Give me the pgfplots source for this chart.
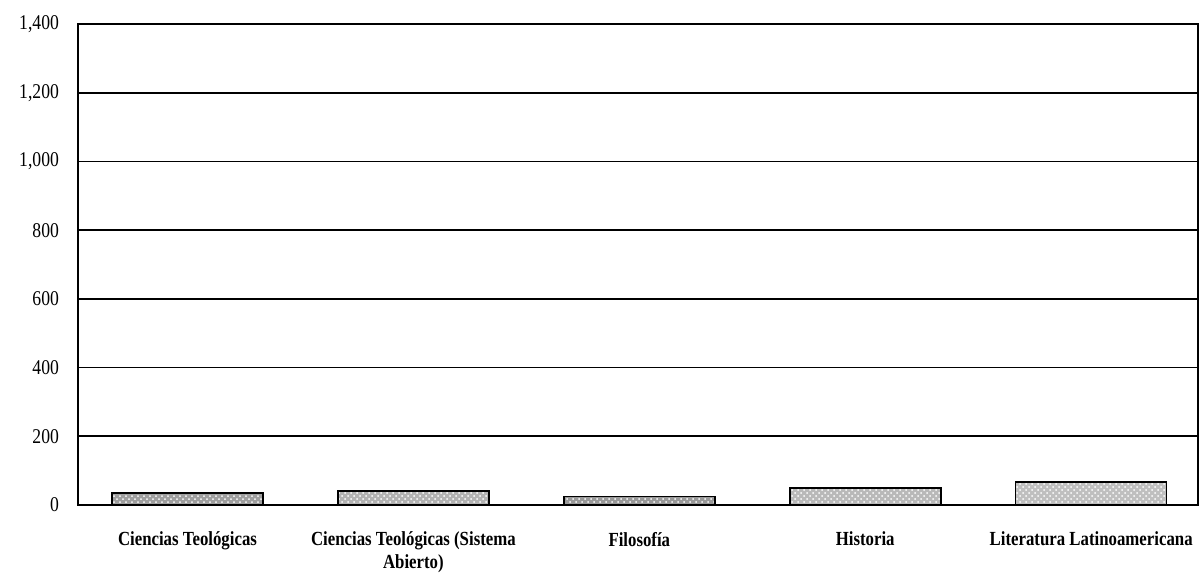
\documentclass[border=0pt]{standalone}
\usepackage{pgfplots}
\pgfplotsset{compat=1.18}
\usepackage{fontspec}
\setmainfont{Liberation Serif}
\newfontfamily\condfont[FakeStretch=0.84]{Liberation Serif}
\usetikzlibrary{patterns}
\begin{document}
\begin{tikzpicture}[x=1pt,y=1pt]
\path[use as bounding box] (0,0) rectangle (601.5,287);
\begin{axis}[
  at={(39pt,34.5pt)}, anchor=south west,
  scale only axis, width=560pt, height=240.5pt,
  ymin=0, ymax=1400, ytick={0,200,...,1400},
  xmin=-0.4845, xmax=4.473, xtick={0,1,2,3,4},
  xticklabels={{Ciencias Teológicas},{Ciencias Teológicas (Sistema\\Abierto)},{Filosofía},{Historia},{Literatura Latinoamericana}},
  xticklabel style={align=center, font=\condfont\fontsize{10}{11.5}\selectfont\bfseries, yshift=-10pt},
  yticklabel style={font=\condfont\fontsize{10.5}{12}\selectfont, xshift=-6pt},
  /pgf/number format/assume math mode=true,
  /pgf/number format/1000 sep={,},
  major tick length=0pt,
  ymajorgrids, grid style={black, line width=0.8pt},
  axis line style={black, line width=0.9pt},
  ybar, bar width=75.5pt, bar shift=0pt,
]
\addplot[draw=black, line width=0.8pt, fill=gray!75, postaction={pattern=crosshatch dots, pattern color=white}]
 coordinates {(0,35)};
\addplot[draw=black, line width=0.8pt, fill=gray!60, postaction={pattern=crosshatch dots, pattern color=white}]
 coordinates {(1,40)};
\addplot[draw=black, line width=0.8pt, fill=gray!80, postaction={pattern=crosshatch dots, pattern color=white}]
 coordinates {(2,25)};
\addplot[draw=black, line width=0.8pt, fill=gray!55, postaction={pattern=crosshatch dots, pattern color=white}]
 coordinates {(3,50)};
\addplot[draw=black, line width=0.8pt, fill=gray!50, postaction={pattern=crosshatch dots, pattern color=white}]
 coordinates {(4,67)};
\end{axis}
\end{tikzpicture}
\end{document}
